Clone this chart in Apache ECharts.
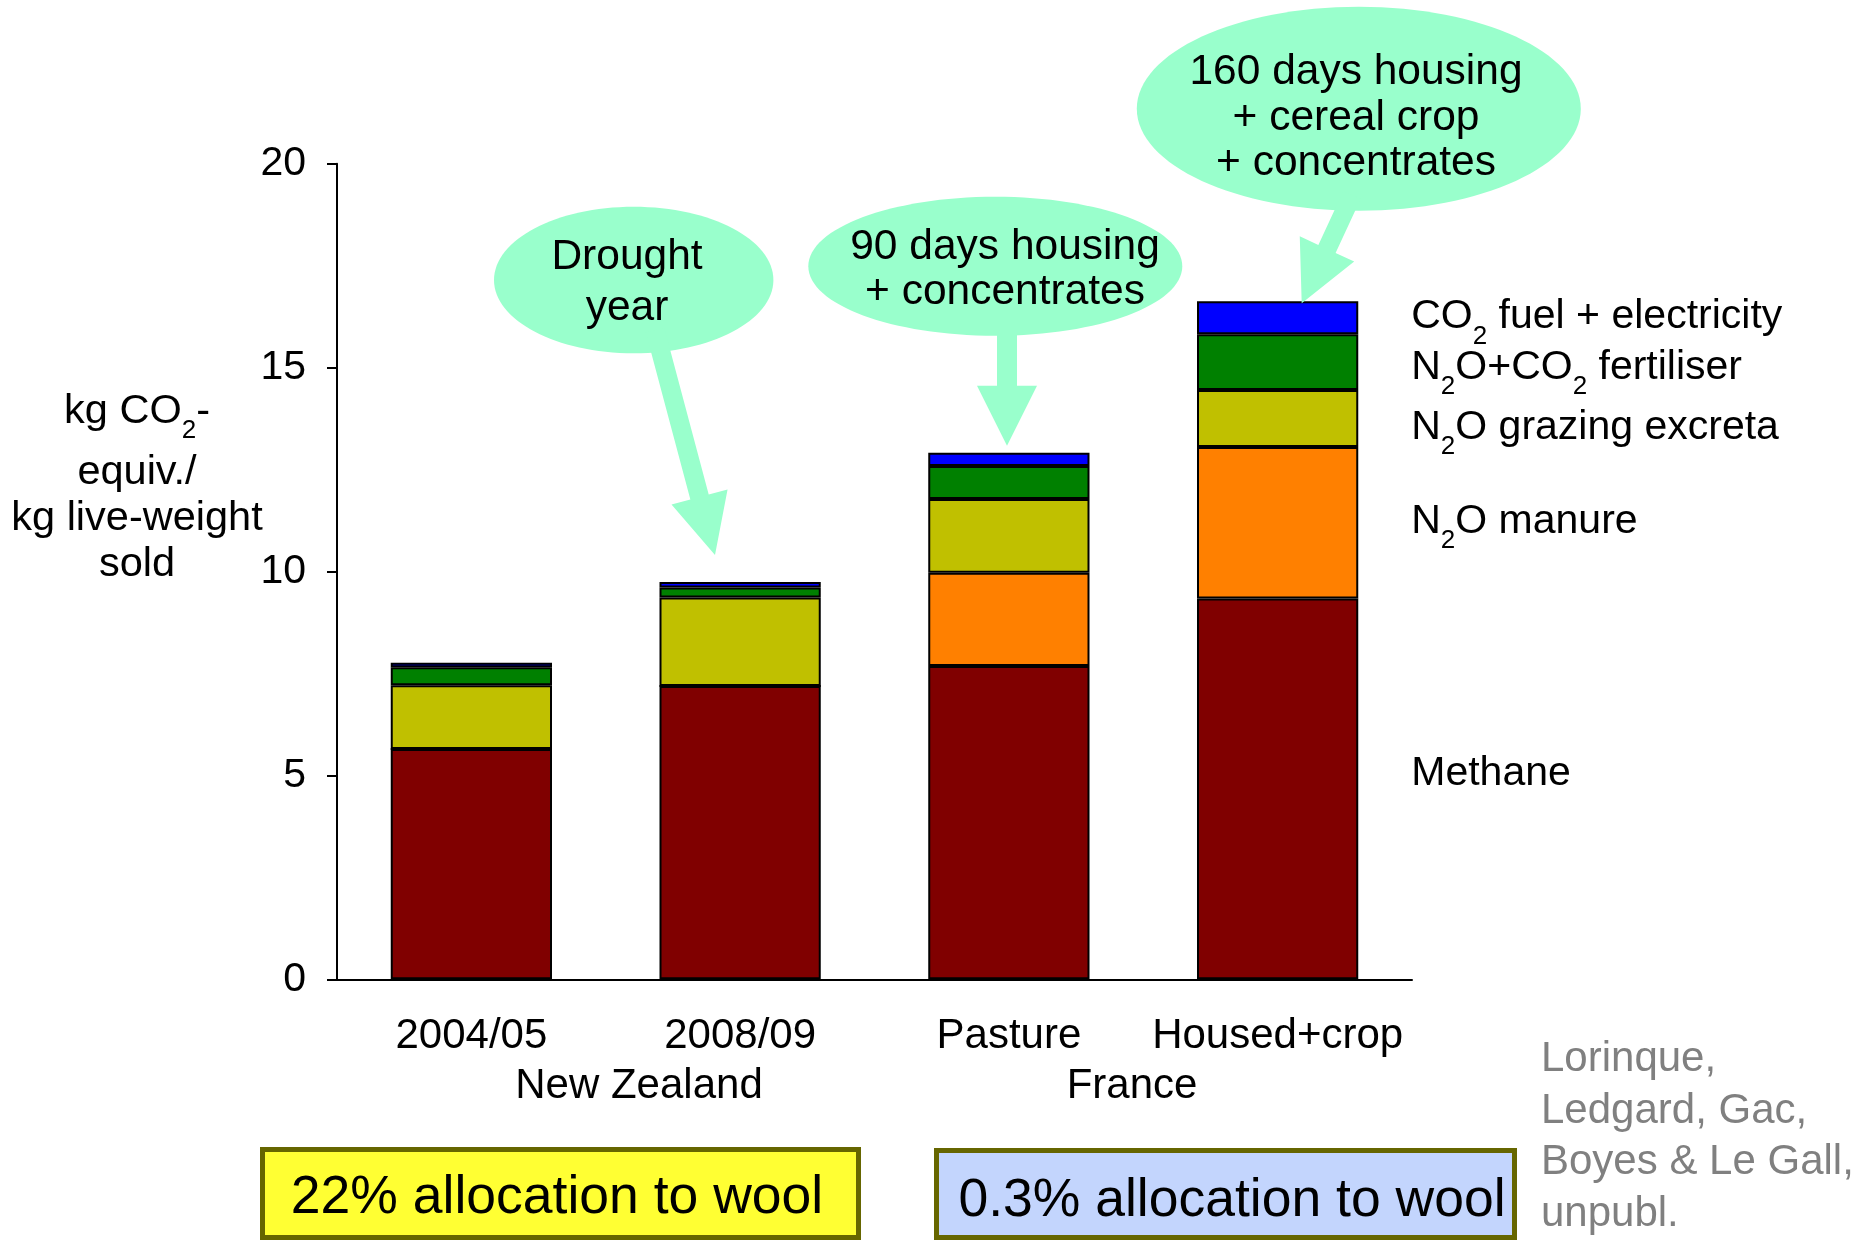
<!DOCTYPE html>
<html><head><meta charset="utf-8">
<script src="https://cdn.jsdelivr.net/npm/echarts@6/dist/echarts.min.js"></script>
<style>html,body{margin:0;padding:0;background:#fff}#c{width:1860px;height:1242px}</style>
</head><body><div id="c"></div>
<script>
// ---- data ----
const categories = ['2004/05', '2008/09', 'Pasture', 'Housed+crop'];
const methane    = [5.65, 7.19, 7.68, 9.34];
const n2oManure  = [0, 0, 2.29, 3.71];
const n2oExcreta = [1.56, 2.17, 1.81, 1.40];
const fertiliser = [0.44, 0.25, 0.81, 1.37];
const fuel       = [0.11, 0.13, 0.32, 0.81];
const yTicks = [0, 5, 10, 15, 20];
const seriesNames = ['Methane', 'N2O manure', 'N2O grazing excreta', 'N2O+CO2 fertiliser', 'CO2 fuel + electricity'];
const seriesLabelRich = [
  '{n|Methane}',
  '{n|N}{s|2}{n|O manure}',
  '{n|N}{s|2}{n|O grazing excreta}',
  '{n|N}{s|2}{n|O+CO}{s|2}{n| fertiliser}',
  '{n|CO}{s|2}{n| fuel + electricity}'
];
const groupLabels = ['New Zealand', 'France'];
const bubbleTexts = ['Drought\nyear', '90 days housing\n+ concentrates', '160 days housing\n+ cereal crop\n+ concentrates'];
const boxTexts = ['22% allocation to wool', '0.3% allocation to wool'];
const creditText = 'Lorinque,\nLedgard, Gac,\nBoyes & Le Gall,\nunpubl.';
const yTitleLine1 = '{n|kg CO}{t|2}{n|-}';
const yTitleRest = 'equiv./\nkg live-weight\nsold';

// ---- styling ----
const FONT = "'Liberation Sans', Arial, Helvetica, sans-serif";
const colors = ['#800000', '#FF8000', '#C0C000', '#008000', '#0000FF'];
const labelOffsets = [-12.5, 1.5, 11.5, 8, 2];
const labelRich = {
  n: {fontSize: 41, lineHeight: 46, verticalAlign: 'top', color: '#000', fontFamily: FONT},
  s: {fontSize: 26, lineHeight: 28, verticalAlign: 'top', padding: [27, 0, 0, 0], color: '#000', fontFamily: FONT}
};
const seriesData = [methane, n2oManure, n2oExcreta, fertiliser, fuel];

const series = seriesData.map((arr, k) => ({
  name: seriesNames[k], type: 'bar', stack: 'total', barWidth: '60%',
  itemStyle: {color: colors[k], borderColor: '#000', borderWidth: 2},
  emphasis: {disabled: true},
  label: {
    show: false, position: 'right', distance: 53,
    formatter: () => seriesLabelRich[k], rich: labelRich, offset: [0, labelOffsets[k]]
  },
  data: arr.map((v, i) => i === arr.length - 1 ? {value: v, label: {show: true}} : v)
}));

function arrowPts(sx, sy, tx, ty, sw, hw, hl) {
  const dx = tx - sx, dy = ty - sy, L = Math.hypot(dx, dy), ux = dx / L, uy = dy / L, px = -uy, py = ux;
  const bx = tx - ux * hl, by = ty - uy * hl;
  return [[sx + px * sw / 2, sy + py * sw / 2], [bx + px * sw / 2, by + py * sw / 2], [bx + px * hw / 2, by + py * hw / 2],
          [tx, ty], [bx - px * hw / 2, by - py * hw / 2], [bx - px * sw / 2, by - py * sw / 2], [sx - px * sw / 2, sy - py * sw / 2]];
}
const BUB = '#99FFCC';
const txt = (x, y, text, size, extra) => Object.assign({type: 'text', z: 13, x: x, y: y,
  style: Object.assign({text: text, fontSize: size, fontFamily: FONT, align: 'center', verticalAlign: 'middle', fill: '#000'}, extra || {})});
const graphic = [
  // bubble 3
  {type: 'ellipse', z: 10, shape: {cx: 1358.8, cy: 108.8, rx: 222, ry: 102}, style: {fill: BUB}},
  {type: 'polygon', z: 10, shape: {points: arrowPts(1352, 195, 1301.7, 303.3, 19, 60, 60)}, style: {fill: BUB}},
  txt(1356, 118, bubbleTexts[2], 42.5, {lineHeight: 45.5}),
  // bubble 2
  {type: 'ellipse', z: 12, shape: {cx: 995.3, cy: 266.2, rx: 187, ry: 69.5}, style: {fill: BUB}},
  {type: 'polygon', z: 12, shape: {points: arrowPts(1007, 320, 1007, 445.7, 20, 60, 60)}, style: {fill: BUB}},
  txt(1005, 269.5, bubbleTexts[1], 42.5, {lineHeight: 45}),
  // bubble 1
  {type: 'ellipse', z: 12, shape: {cx: 633.7, cy: 280, rx: 139.7, ry: 73.3}, style: {fill: BUB}},
  {type: 'polygon', z: 12, shape: {points: arrowPts(655, 330, 715, 555, 19, 58, 60)}, style: {fill: BUB}},
  txt(627, 283, bubbleTexts[0], 42.5, {lineHeight: 51}),
  // y-axis title
  {type: 'text', z: 10, x: 137, y: 391, style: {
    text: yTitleLine1, align: 'center', verticalAlign: 'top',
    rich: {
      n: {fontSize: 41.5, lineHeight: 47, verticalAlign: 'top', fontFamily: FONT, fill: '#000'},
      t: {fontSize: 26, lineHeight: 30, verticalAlign: 'top', padding: [27, 0, 0, 0], fontFamily: FONT, fill: '#000'}
    }}},
  {type: 'text', z: 10, x: 137, y: 450, style: {text: yTitleRest, fontSize: 41.5, fontFamily: FONT, lineHeight: 46, align: 'center', verticalAlign: 'top', fill: '#000'}},
  // group labels
  txt(639, 1086.5, groupLabels[0], 42),
  txt(1132, 1086.5, groupLabels[1], 42),
  // boxes
  {type: 'rect', z: 10, shape: {x: 262.5, y: 1149.5, width: 596, height: 88}, style: {fill: '#FFFF33', stroke: '#666600', lineWidth: 5}},
  txt(557, 1198, boxTexts[0], 53.5),
  {type: 'rect', z: 10, shape: {x: 936.5, y: 1150.5, width: 578, height: 87}, style: {fill: '#C3D5FD', stroke: '#666600', lineWidth: 5}},
  txt(1232, 1201.5, boxTexts[1], 53.5),
  // credit
  txt(1541, 1137, creditText, 42, {lineHeight: 51.5, align: 'left', fill: '#808080'})
];

const chart = echarts.init(document.getElementById('c'), null, {renderer: 'canvas'});
chart.setOption({
  animation: false,
  backgroundColor: '#fff',
  grid: {left: 337, top: 163.7, right: 448, bottom: 262.7, containLabel: false},
  xAxis: {
    type: 'category', data: categories,
    axisLine: {lineStyle: {color: '#000', width: 2}},
    axisTick: {alignWithLabel: true, length: 11, lineStyle: {color: '#000', width: 2}},
    axisLabel: {interval: 0, fontSize: 42, lineHeight: 44, margin: 35, color: '#000', fontFamily: FONT}
  },
  yAxis: {
    type: 'value', min: yTicks[0], max: yTicks[yTicks.length - 1], interval: yTicks[1] - yTicks[0],
    axisLine: {show: true, lineStyle: {color: '#000', width: 2}},
    axisTick: {show: true, length: 10, lineStyle: {color: '#000', width: 2}},
    splitLine: {show: false},
    axisLabel: {fontSize: 41, margin: 31, color: '#000', fontFamily: FONT}
  },
  series: series,
  graphic: graphic
});
</script>
</body></html>
